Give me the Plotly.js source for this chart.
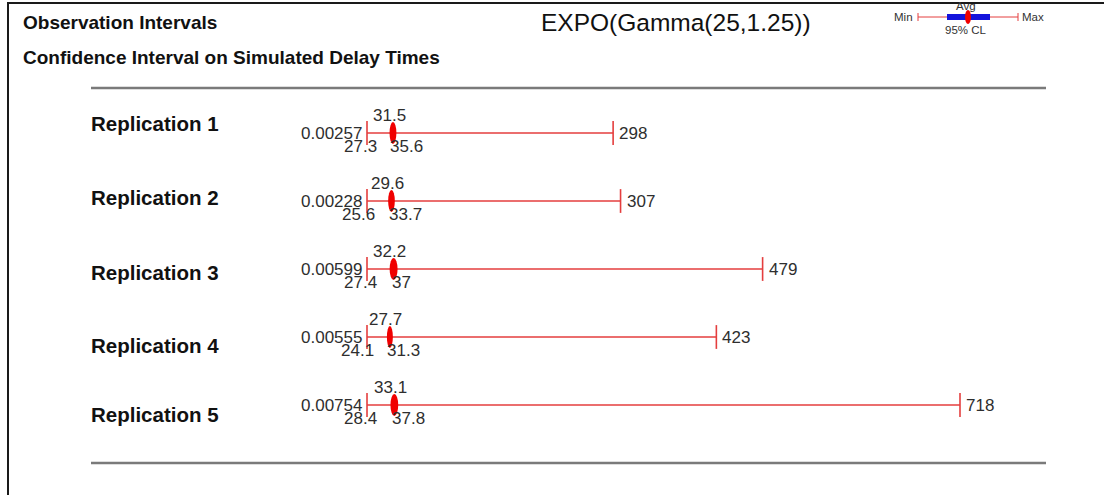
<!DOCTYPE html>
<html>
<head>
<meta charset="utf-8">
<script src="https://cdn.plot.ly/plotly-3.0.1.min.js"></script>
<style>
html,body{margin:0;padding:0;background:#fff;}
#chart{width:1104px;height:495px;}
</style>
</head>
<body>
<div id="chart"></div>
<script>
// ---- data ----
const replications = ["Replication 1", "Replication 2", "Replication 3", "Replication 4", "Replication 5"];
const minVals  = [0.00257, 0.00228, 0.00599, 0.00555, 0.00754];
const maxVals  = [298, 307, 479, 423, 718];
const avgVals  = [31.5, 29.6, 32.2, 27.7, 33.1];
const ciLow    = [27.3, 25.6, 27.4, 24.1, 28.4];
const ciHigh   = [35.6, 33.7, 37, 31.3, 37.8];
const minLabels = ["0.00257", "0.00228", "0.00599", "0.00555", "0.00754"];
const maxLabels = ["298", "307", "479", "423", "718"];
const avgLabels = ["31.5", "29.6", "32.2", "27.7", "33.1"];
const ciLowLabels  = ["27.3", "25.6", "27.4", "24.1", "28.4"];
const ciHighLabels = ["35.6", "33.7", "37", "31.3", "37.8"];
const titleText = "EXPO(Gamma(25,1.25))";
const subTitle1 = "Observation Intervals";
const subTitle2 = "Confidence Interval on Simulated Delay Times";

// ---- layout helpers ----
const W = 1104, H = 495;
const px = x => x / W;
const py = y => 1 - y / H;
const RED = "rgb(228,62,62)";
const TXT = "#2e2e2e";
const FONT = "Liberation Sans, Arial, sans-serif";
const rows = replications.map((_, i) => i);

// line segments min -> max
const lx = [], ly = [];
rows.forEach(i => { lx.push(minVals[i], maxVals[i], null); ly.push(i, i, null); });

const traces = [
  {x: lx, y: ly, mode: "lines", line: {color: RED, width: 1.6}, hoverinfo: "skip", showlegend: false},
  {x: minVals.concat(maxVals), y: rows.concat(rows), mode: "markers",
   marker: {symbol: "line-ns", size: 17, line: {color: RED, width: 1.6}}, hoverinfo: "skip", showlegend: false}
];

const shapes = [];
rows.forEach(i => {
  shapes.push({type: "circle", xref: "x", yref: "y", x0: ciLow[i], x1: ciHigh[i], y0: i - 0.16, y1: i + 0.16,
    fillcolor: "rgb(240,0,0)", line: {width: 0}});
});
// frame
shapes.push({type: "line", xref: "paper", yref: "paper", x0: px(8), x1: px(8), y0: 0, y1: py(3), line: {color: "#1a1a1a", width: 2}});
shapes.push({type: "line", xref: "paper", yref: "paper", x0: px(7), x1: 1, y0: py(3), y1: py(3), line: {color: "#1a1a1a", width: 2}});
// separators
[88, 463].forEach(y => shapes.push({type: "line", xref: "paper", yref: "paper", x0: px(91), x1: px(1046), y0: py(y), y1: py(y), line: {color: "#7a7a7a", width: 2.5}}));
// key (legend glyph)
shapes.push({type: "line", xref: "paper", yref: "paper", x0: px(918), x1: px(1018), y0: py(17), y1: py(17), line: {color: RED, width: 1}});
shapes.push({type: "line", xref: "paper", yref: "paper", x0: px(918), x1: px(918), y0: py(13), y1: py(21), line: {color: RED, width: 1}});
shapes.push({type: "line", xref: "paper", yref: "paper", x0: px(1018), x1: px(1018), y0: py(13), y1: py(21), line: {color: RED, width: 1}});
shapes.push({type: "rect", xref: "paper", yref: "paper", x0: px(947), x1: px(990), y0: py(20), y1: py(14), fillcolor: "rgb(20,20,220)", line: {width: 0}});
shapes.push({type: "circle", xref: "paper", yref: "paper", x0: px(965), x1: px(971), y0: py(24), y1: py(10), fillcolor: "rgb(240,0,0)", line: {width: 0}});

const ann = [];
const lab = (x, y, text, opts) => Object.assign({x, y, xref: "x", yref: "y", text, showarrow: false,
  font: {family: FONT, size: 17, color: TXT}}, opts);
rows.forEach(i => {
  ann.push(lab(minVals[i], i, minLabels[i], {xanchor: "right", yanchor: "middle", xshift: -3}));
  ann.push(lab(maxVals[i], i, maxLabels[i], {xanchor: "left", yanchor: "middle", xshift: 4}));
  ann.push(lab(avgVals[i], i, avgLabels[i], {xanchor: "center", yanchor: "middle", yshift: 18, xshift: -4}));
  ann.push(lab(ciLow[i], i, ciLowLabels[i], {xanchor: "right", yanchor: "middle", yshift: -13, xshift: -11}));
  ann.push(lab(ciHigh[i], i, ciHighLabels[i], {xanchor: "left", yanchor: "middle", yshift: -13, xshift: -8}));
});
const labelY = [123, 197, 272, 345, 414];
rows.forEach(i => ann.push({x: px(89), y: py(labelY[i]), xref: "paper", yref: "paper", text: "<b>" + replications[i] + "</b>",
  showarrow: false, xanchor: "left", yanchor: "middle", font: {family: FONT, size: 20.5, color: "#111"}}));
const pAnn = (x, y, text, size, anchor, color) => ({x: px(x), y: py(y), xref: "paper", yref: "paper", text,
  showarrow: false, xanchor: anchor, yanchor: "middle", font: {family: FONT, size, color: color || "#111"}});
ann.push(pAnn(21, 23, "<b>" + subTitle1 + "</b>", 19, "left"));
ann.push(pAnn(21, 58, "<b>" + subTitle2 + "</b>", 19, "left"));
ann.push(pAnn(676, 23, titleText, 24.5, "center"));
ann.push(pAnn(966, 6, "Avg", 11.5, "center", "#333"));
ann.push(pAnn(915, 17, "Min", 11.5, "right", "#333"));
ann.push(pAnn(1020, 17, "Max", 11.5, "left", "#333"));
ann.push(pAnn(966, 30, "95% CL", 11.5, "center", "#333"));

const xr = [-367 / (593 / 718), (W - 367) / (593 / 718)];
const yr = [(H - 133) / 68, -133 / 68];

const layout = {
  width: W, height: H,
  margin: {l: 0, r: 0, t: 0, b: 0},
  paper_bgcolor: "#fff", plot_bgcolor: "#fff",
  xaxis: {range: xr, visible: false, fixedrange: true},
  yaxis: {range: yr, visible: false, fixedrange: true},
  shapes, annotations: ann, showlegend: false
};
Plotly.newPlot("chart", traces, layout, {staticPlot: true, displayModeBar: false});
</script>
</body>
</html>
